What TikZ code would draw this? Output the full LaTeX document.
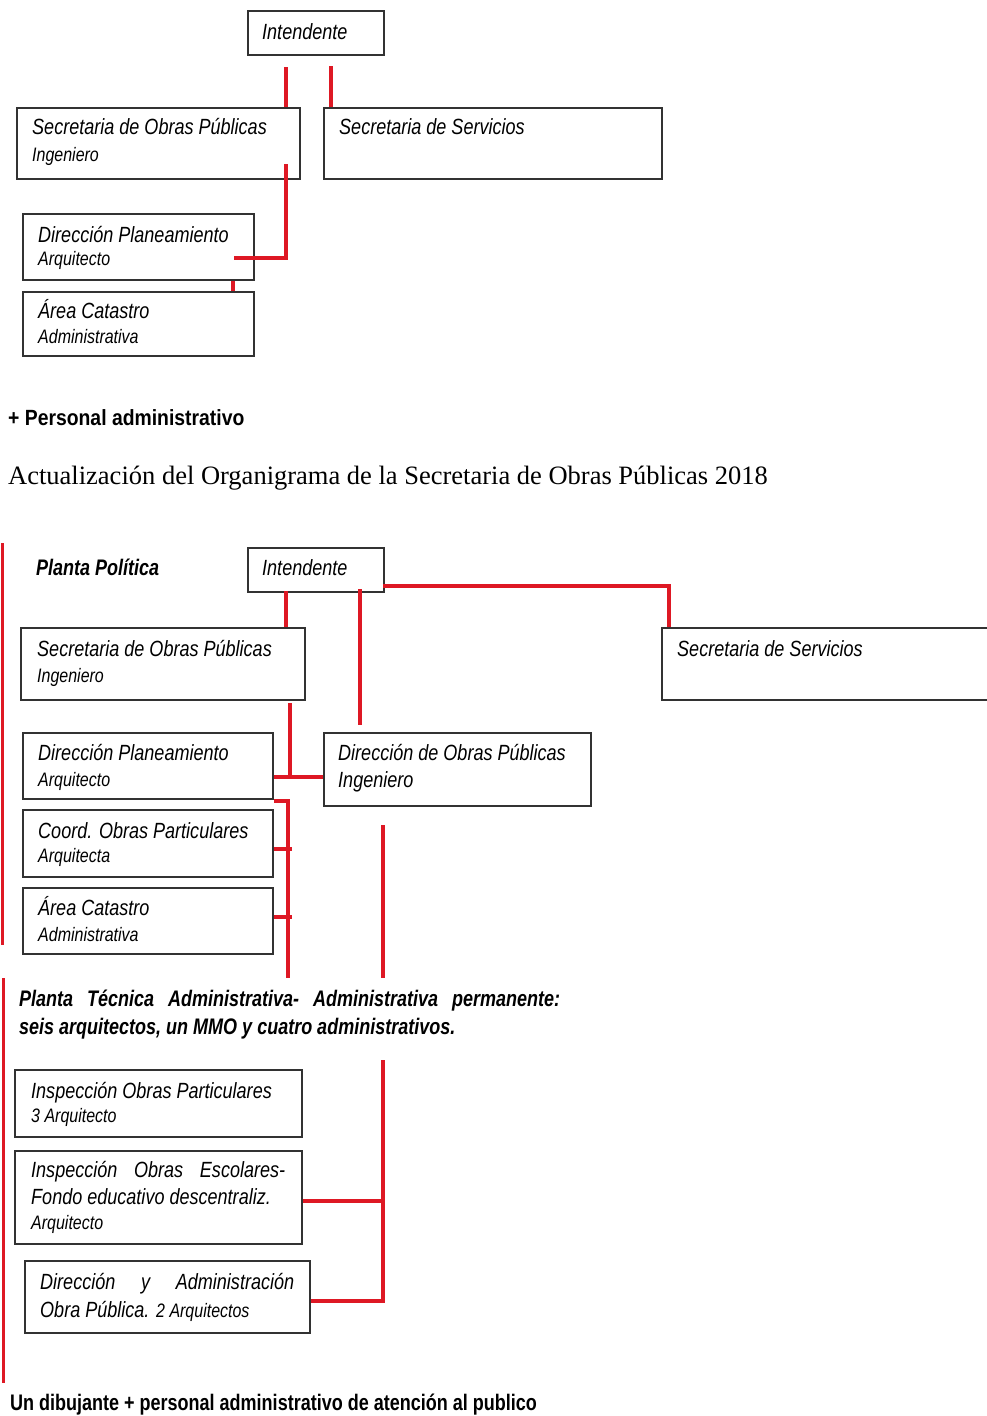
\documentclass[tikz,border=0pt]{standalone}
\usepackage{fontspec}
\usetikzlibrary{calc}
\setmainfont{Liberation Serif}
\newfontfamily\orgsans[FakeStretch=0.82]{Liberation Sans}
\newfontfamily\orgbold[FakeStretch=0.80]{Liberation Sans}
\newfontfamily\orgwide[FakeStretch=0.88]{Liberation Sans}
\definecolor{orgred}{RGB}{222,24,36}
\definecolor{boxline}{RGB}{50,50,50}
\begin{document}
\begin{tikzpicture}[x=1pt,y=-1pt,
  orgbox/.style={draw=boxline, line width=1.6pt, inner sep=0pt, anchor=north west},
  maintxt/.style={font=\orgsans\itshape\fontsize{22}{26}\selectfont, anchor=base west, inner sep=0pt},
  subtxt/.style={font=\orgsans\itshape\fontsize{19.5}{22}\selectfont, anchor=base west, inner sep=0pt},
  boldtxt/.style={font=\orgbold\bfseries\fontsize{22.5}{26}\selectfont, anchor=base west, inner sep=0pt},
  link/.style={draw=orgred, line width=4pt},
  edge/.style={draw=orgred, line width=3pt}]
\clip (0,0) rectangle (987,1416);
\fill[white] (0,0) rectangle (987,1416);

% ---------- current chart ----------
\node[orgbox, minimum width=136pt, minimum height=44pt] (intA) at (247,10) {};
\node[orgbox, minimum width=283pt, minimum height=71pt] (secA) at (16,107) {};
\node[orgbox, minimum width=338pt, minimum height=71pt] (serA) at (323,107) {};
\node[orgbox, minimum width=231pt, minimum height=66pt] (dirA) at (22,213) {};
\node[orgbox, minimum width=231pt, minimum height=64pt] (catA) at (22,291) {};

\node[maintxt] (intAt) at (262,39) {Intendente};
\node[maintxt] (secAt) at (32,134) {Secretaria de Obras Públicas};
\node[subtxt] (secAs) at (32,161) {Ingeniero};
\node[maintxt] (serAt) at (339,134) {Secretaria de Servicios};
\node[maintxt] (dirAt) at (38,242) {Dirección Planeamiento};
\node[subtxt] (dirAs) at (38,265) {Arquitecto};
\node[maintxt] (catAt) at (38,318) {Área Catastro};
\node[subtxt] (catAs) at (38,343) {Administrativa};

\coordinate (a1) at (286,67);
\coordinate (a2) at (331,66);
\coordinate (a3) at (286,164);
\coordinate (a4) at (234,258);
\coordinate (a5) at (233,280);
\draw[link] (a1) -- (a1 |- secA.north);
\draw[link] (a2) -- (a2 |- serA.north);
\draw[link] (a3) |- (a4);
\draw[link] (a5 |- dirA.south) -- (a5 |- catA.north);

\node[font=\orgwide\bfseries\fontsize{22}{26}\selectfont, anchor=base west, inner sep=0pt] (perA) at (8,425) {+ Personal administrativo};

\node[font=\fontsize{26.5}{30}\selectfont, anchor=base west, inner sep=0pt] (title) at (8,484)
  {Actualización del Organigrama de la Secretaria de Obras Públicas 2018};

% ---------- updated chart ----------
\node[font=\orgbold\bfseries\itshape\fontsize{22.5}{26}\selectfont, anchor=base west, inner sep=0pt] (polB) at (36,575) {Planta Política};

\node[orgbox, minimum width=136pt, minimum height=44pt] (intB) at (247,547) {};
\node[orgbox, minimum width=284pt, minimum height=72pt] (secB) at (20,627) {};
\node[orgbox, minimum width=345pt, minimum height=72pt] (serB) at (661,627) {};
\node[orgbox, minimum width=250pt, minimum height=66pt] (dirB) at (22,732) {};
\node[orgbox, minimum width=267pt, minimum height=73pt] (dopB) at (323,732) {};
\node[orgbox, minimum width=250pt, minimum height=67pt] (coB) at (22,809) {};
\node[orgbox, minimum width=250pt, minimum height=66pt] (catB) at (22,887) {};
\node[orgbox, minimum width=287pt, minimum height=67pt] (iopB) at (14,1069) {};
\node[orgbox, minimum width=287pt, minimum height=93pt] (ioeB) at (14,1150) {};
\node[orgbox, minimum width=285pt, minimum height=72pt] (daB) at (24,1260) {};

\node[maintxt] (intBt) at (262,575) {Intendente};
\node[maintxt] (secBt) at (37,656) {Secretaria de Obras Públicas};
\node[subtxt] (secBs) at (37,682) {Ingeniero};
\node[maintxt] (serBt) at (677,656) {Secretaria de Servicios};
\node[maintxt] (dirBt) at (38,760) {Dirección Planeamiento};
\node[subtxt] (dirBs) at (38,786) {Arquitecto};
\node[maintxt] (dopBt) at (338,760) {Dirección de Obras Públicas};
\node[maintxt] (dopBs) at (338,787) {Ingeniero};
\node[maintxt] (coBt) at (38,838) {Coord. Obras Particulares};
\node[subtxt] (coBs) at (38,862) {Arquitecta};
\node[maintxt] (catBt) at (38,915) {Área Catastro};
\node[subtxt] (catBs) at (38,941) {Administrativa};

\node[boldtxt, font=\orgbold\bfseries\itshape\fontsize{22.5}{26}\selectfont] (tecB1) at (19,1006)
  {\makebox[541pt][s]{Planta Técnica Administrativa- Administrativa permanente:}};
\node[boldtxt, font=\orgbold\bfseries\itshape\fontsize{22.5}{26}\selectfont] (tecB2) at (19,1034)
  {seis arquitectos, un MMO y cuatro administrativos.};

\node[maintxt] (iopBt) at (31,1098) {Inspección Obras Particulares};
\node[subtxt] (iopBs) at (31,1122) {3 Arquitecto};
\node[maintxt] (ioeBt) at (31,1177) {\makebox[254pt][s]{Inspección Obras Escolares-}};
\node[maintxt] (ioeBm) at (31,1204) {Fondo educativo descentraliz.};
\node[subtxt] (ioeBs) at (31,1229) {Arquitecto};
\node[maintxt] (daBt) at (40,1289) {\makebox[254pt][s]{Dirección y Administración}};
\node[maintxt] (daBm) at (40,1317) {Obra Pública. {\fontsize{19.5}{22}\selectfont 2 Arquitectos}};

\node[boldtxt] (dibB) at (10,1410) {Un dibujante + personal administrativo de atención al publico};

% connectors of the updated chart
\coordinate (b1) at (286,591);
\coordinate (b2) at (360,589);
\coordinate (b2e) at (360,725);
\coordinate (b3) at (383,586);
\coordinate (b3c) at (669,586);
\coordinate (b4) at (290,703);
\coordinate (b4c) at (290,777);
\coordinate (b5) at (288,801);
\coordinate (b5e) at (288,978);
\coordinate (b6) at (383,825);
\coordinate (b6e) at (383,978);
\coordinate (b7) at (383,1060);
\coordinate (b7e) at (383,1302);
\coordinate (b8a) at (385,1201);
\coordinate (b8b) at (385,1301);

\draw[link] (b1) -- (b1 |- secB.north);
\draw[link] (b2) -- (b2e);
\draw[link] (b3) -- (b3c) -- (b3c |- serB.north);
\draw[link] (b4) -- (b4c);
\draw[link] (b4c -| dirB.east) -- (b4c -| dopB.west);
\draw[link] (b5 -| dirB.east) -- (b5) -- (b5e);
\draw[link] (coB.east |- 0,849) -- (292,849);
\draw[link] (catB.east |- 0,917) -- (292,917);
\draw[link] (b6) -- (b6e);
\draw[link] (b7) -- (b7e);
\draw[link] (b8a -| ioeB.east) -- (b8a);
\draw[link] (b8b -| daB.east) -- (b8b);

% side markers on the left edge
\coordinate (s1) at (2,543);
\coordinate (s1e) at (2,945);
\coordinate (s2) at (3,978);
\coordinate (s2e) at (3,1383);
\draw[edge] (s1) -- (s1e);
\draw[edge] (s2) -- (s2e);
\end{tikzpicture}
\end{document}
